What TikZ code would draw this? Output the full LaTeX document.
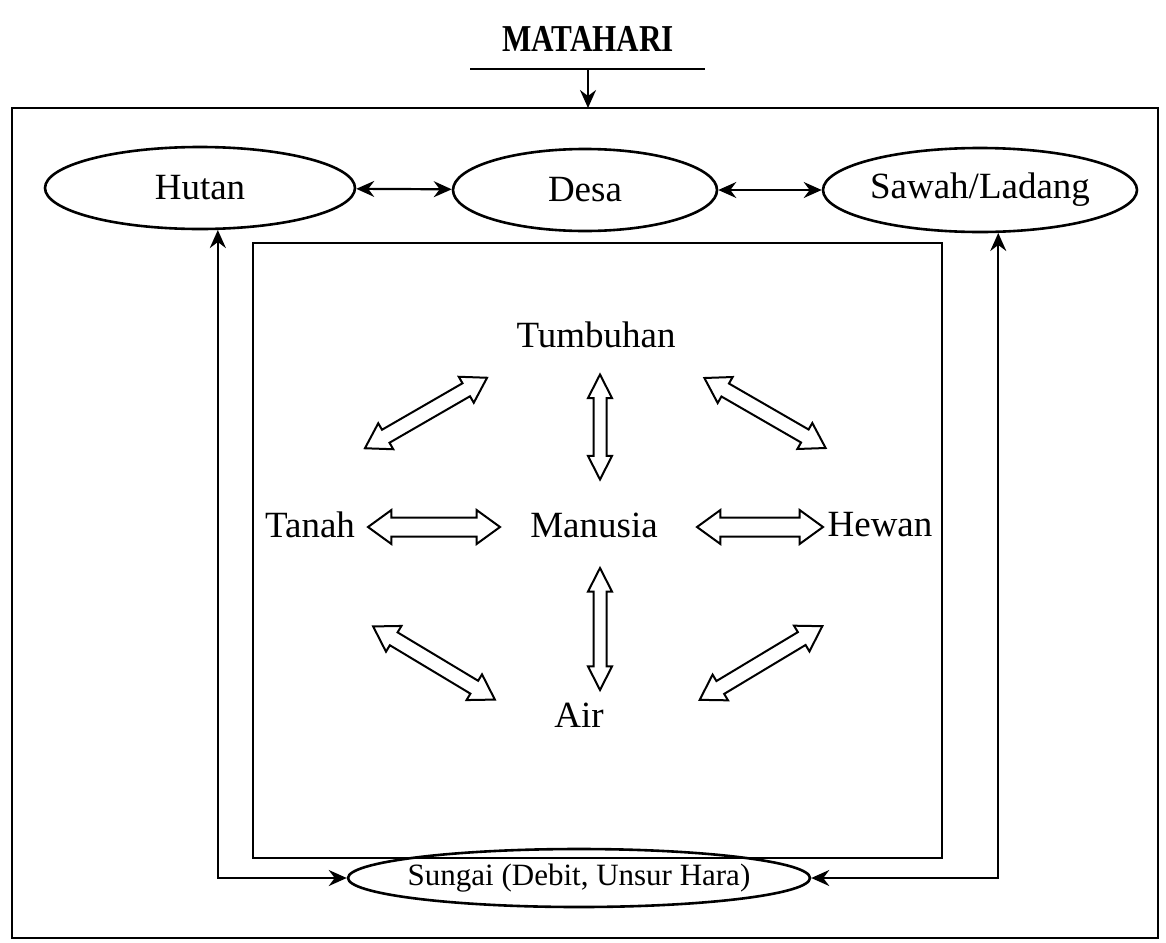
\documentclass[tikz,border=0pt]{standalone}
\usepackage{fontspec}
\setmainfont{Liberation Serif}
\usetikzlibrary{shapes.geometric,shapes.arrows,arrows.meta}
\tikzset{
  elips/.style={ellipse, draw, line width=1.3pt, inner sep=0pt, font=\fontsize{18.5}{20}\selectfont},
  label/.style={inner sep=1pt, font=\fontsize{18.5}{20}\selectfont},
  ujung/.tip={Stealth[length=9pt,width=8pt,inset=3pt]},
  hubung/.style={line width=1.1pt, ujung-ujung},
  panah/.style={double arrow, draw, line width=1pt, inner xsep=0pt, double arrow head indent=0pt},
  panahH/.style={panah, inner ysep=4.25pt, minimum width=16pt, double arrow head extend=3.75pt, double arrow tip angle=72},
  panahV/.style={panah, inner ysep=2.75pt, minimum width=11pt, double arrow head extend=2.75pt, double arrow tip angle=54},
  panahD/.style={panah, inner ysep=3.25pt, minimum width=14pt, double arrow head extend=3.75pt, double arrow tip angle=64}
}
\begin{document}
\begin{tikzpicture}[x=0.5pt,y=-0.5pt]
    \useasboundingbox (0,0) rectangle (1166,942);
        %Matahari
    \node[font=\fontsize{19}{22}\selectfont\bfseries, xscale=0.82] (matahari) at (588,39) {MATAHARI};
    \coordinate (garisA) at (470,69);
    \coordinate (garisB) at (705,69);
    \coordinate (sinar) at (588,69);
    \coordinate (kotak) at (588,108);
    \draw[line width=1.3pt] (garisA) -- (garisB); %Garis bawah matahari
    \draw[line width=1.1pt, -ujung] (sinar) -- (kotak);
        %Kotak
    \draw[line width=1.3pt] (12,108) rectangle (1158,938); %Kotak luar
    \draw[line width=1.4pt] (253,243) rectangle (942,858); %Kotak dalam
        %Elips
    \node[elips, minimum width=155pt, minimum height=41pt] (hutan) at (200,188) {Hutan};
    \node[elips, minimum width=132pt, minimum height=41pt] (desa) at (585,190) {Desa};
    \node[elips, minimum width=157pt, minimum height=42pt] (sawah) at (980,190) {Sawah/Ladang};
    \node[elips, inner xsep=-4pt, minimum width=229pt, minimum height=29pt, font=\fontsize{15.5}{18}\selectfont] (sungai) at (579,878) {Sungai (Debit, Unsur Hara)};
        %Hubungan luar
    \draw[hubung] (hutan) -- (desa);
    \draw[hubung] (desa) -- (sawah);
    \draw[hubung] (hutan.-67) -- (hutan.-67 |- sungai.west) -- (sungai.west);
    \draw[hubung] (sawah.-67) -- (sawah.-67 |- sungai.east) -- (sungai.east);
        %Komponen
    \node[label] (tumbuhan) at (596,335) {Tumbuhan};
    \node[label] (tanah) at (310,525) {Tanah};
    \node[label] (manusia) at (594,525) {Manusia};
    \node[label] (hewan) at (880,525) {Hewan};
    \node[label] (air) at (579,715) {Air};
        %Panah tebal
    \node[panahV, minimum height=52.5pt, rotate=90] (p1) at (600,427) {};
    \node[panahV, minimum height=61pt, rotate=90] (p2) at (600,629) {};
    \node[panahH, minimum height=66pt] (p3) at (434,527) {};
    \node[panahH, minimum height=63pt] (p4) at (760,527) {};
    \node[panahD, minimum height=70.5pt, rotate=30] (p5) at (426,413) {};
    \node[panahD, minimum height=70pt, rotate=-30] (p6) at (765,413) {};
    \node[panahD, minimum height=71pt, rotate=-31] (p7) at (434,663) {};
    \node[panahD, minimum height=71.5pt, rotate=31] (p8) at (761,663) {};
\end{tikzpicture}
\end{document}
